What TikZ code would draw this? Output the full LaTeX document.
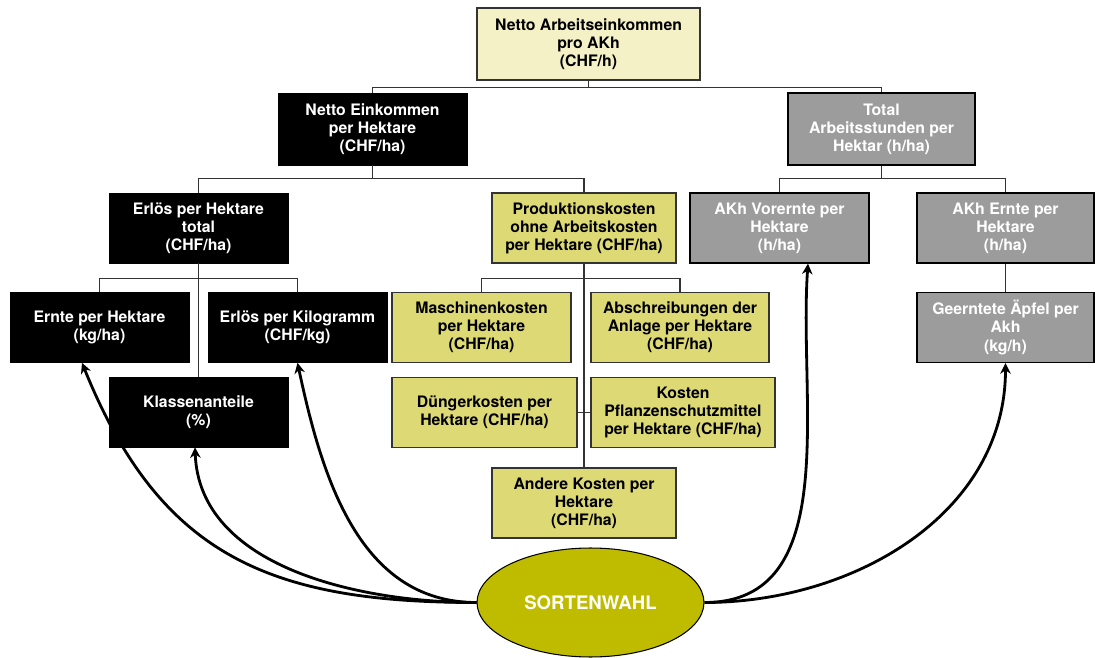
\documentclass[tikz,border=0pt]{standalone}
\usepackage{fontspec}
\setmainfont{TeX Gyre Heros}
\usetikzlibrary{shapes, arrows.meta}
\definecolor{cream}{HTML}{F4F1C7}
\definecolor{costyellow}{HTML}{DDD975}
\definecolor{hourgray}{HTML}{9C9C9C}
\definecolor{olive}{HTML}{BFBC00}
\definecolor{linegray}{HTML}{333333}
\tikzstyle{topbox} = [rectangle, minimum width=4.46cm, minimum height=1.44cm, align=center, draw=linegray, line width=0.8pt, fill=cream, font=\fontsize{9}{10.3}\selectfont\bfseries]
\tikzstyle{blackbox} = [rectangle, minimum width=3.58cm, minimum height=1.4cm, align=center, draw=black, fill=black, text=white, font=\fontsize{9}{10.3}\selectfont\bfseries]
\tikzstyle{costbox} = [rectangle, minimum width=3.68cm, minimum height=1.4cm, align=center, draw=linegray, line width=0.8pt, fill=costyellow, font=\fontsize{9}{10.3}\selectfont\bfseries]
\tikzstyle{graybox} = [rectangle, minimum width=3.56cm, minimum height=1.4cm, align=center, draw=black, line width=0.8pt, fill=hourgray, text=white, font=\fontsize{9}{10.3}\selectfont\bfseries]
\tikzstyle{choice} = [ellipse, minimum width=4.54cm, minimum height=2.18cm, draw=black, line width=0.6pt, fill=olive, text=white, font=\fontsize{10.6}{12}\selectfont\bfseries]
\tikzstyle{tree} = [draw=linegray, line width=0.6pt]
\tikzstyle{arrow} = [line width=1.6pt, -{Stealth[length=6pt,width=6pt]}]

\begin{document}
\begin{tikzpicture}[x=0.02cm, y=-0.02cm]
    \useasboundingbox (0,0) rectangle (1095,658);

    \node (netinc) [topbox] at (588.5,44) {Netto Arbeitseinkommen\\pro AKh\\(CHF/h)};
    \node (netha) [blackbox, minimum width=3.78cm, minimum height=1.44cm] at (372.5,129) {Netto Einkommen\\per Hektare\\(CHF/ha)};
    \node (hours) [graybox, minimum width=3.74cm, minimum height=1.44cm] at (881.5,129) {Total\\Arbeitsstunden per\\Hektar (h/ha)};

    \node (revha) [blackbox] at (198.5,228) {Erlös per Hektare\\total\\(CHF/ha)};
    \node (prodcost) [costbox] at (584,228) {Produktionskosten\\ohne Arbeitskosten\\per Hektare (CHF/ha)};
    \node (preharv) [graybox, minimum width=3.58cm] at (779.5,228) {AKh Vorernte per\\Hektare\\(h/ha)};
    \node (harv) [graybox, minimum width=3.54cm] at (1005.5,228) {AKh Ernte per\\Hektare\\(h/ha)};

    \node (yieldha) [blackbox] at (99.5,327.5) {Ernte per Hektare\\(kg/ha)};
    \node (revkg) [blackbox] at (297.5,327.5) {Erlös per Kilogramm\\(CHF/kg)};
    \node (classes) [blackbox] at (198.5,412) {Klassenanteile\\(\%)};

    \node (machine) [costbox, minimum width=3.58cm] at (481.5,327.5) {Maschinenkosten\\per Hektare\\(CHF/ha)};
    \node (deprec) [costbox, minimum width=3.56cm] at (680,327.5) {Abschreibungen der\\Anlage per Hektare\\(CHF/ha)};
    \node (fert) [costbox, minimum width=3.7cm] at (484.5,412.5) {Düngerkosten per\\Hektare (CHF/ha)};
    \node (plantprot) [costbox] at (683,412.5) {Kosten\\Pflanzenschutzmittel\\per Hektare (CHF/ha)};
    \node (other) [costbox] at (584,503) {Andere Kosten per\\Hektare\\(CHF/ha)};

    \node (picked) [graybox, minimum width=3.54cm] at (1005.5,327.5) {Geerntete Äpfel per\\Akh\\(kg/h)};

    \node (variety) [choice] at (590.5,602.5) {SORTENWAHL};

    % tree lines
    \draw [tree] (netinc.south) -- ++(0,7) -| (netha.north);
    \draw [tree] (netinc.south) -- ++(0,7) -| (hours.north);
    \draw [tree] (netha.south) -- ++(0,13) -| (revha.north);
    \draw [tree] (netha.south) -- ++(0,13) -| (prodcost.north);
    \draw [tree] (hours.south) -- ++(0,13) -| (preharv.north);
    \draw [tree] (hours.south) -- ++(0,13) -| (harv.north);
    \draw [tree] (revha.south) -- ++(0,15) -| (yieldha.north);
    \draw [tree] (revha.south) -- ++(0,15) -| (revkg.north);
    \draw [tree] (revha.south) -- (classes.north);
    \draw [tree] (prodcost.south) -- ++(0,15) -| (machine.north);
    \draw [tree] (prodcost.south) -- ++(0,15) -| (deprec.north);
    \draw [tree, line width=1pt] (prodcost.south) -- (other.north);
    \draw [tree] (fert.east) -- (plantprot.west);
    \draw [tree] (harv.south) -- (picked.north);

    % arrows from the choice
    \draw [arrow] (variety.west) to[out=180, in=-68, looseness=1.15] ([xshift=-0.35cm]yieldha.south);
    \draw [arrow] (variety.west) to[out=180, in=-88, looseness=0.95] ([xshift=-0.07cm]classes.south);
    \draw [arrow] (variety.west) to[out=180, in=-78] (revkg.south);
    \draw [arrow] (variety.east) to[out=0, in=-94] ([xshift=0.57cm]preharv.south);
    \draw [arrow] (variety.east) to[out=0, in=-90] (picked.south);

\end{tikzpicture}
\end{document}
